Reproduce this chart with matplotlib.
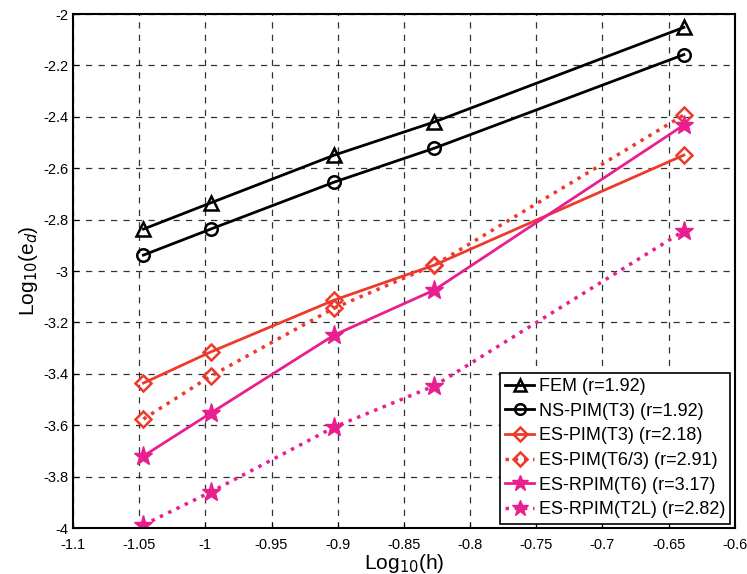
import matplotlib
matplotlib.use("Agg")
import matplotlib.pyplot as plt

plt.rcParams['font.family'] = ['Liberation Sans', 'DejaVu Sans']

# log10(h) for the five meshes
log_h = [-1.0468, -0.9960, -0.9026, -0.8270, -0.6385]

fem      = [-2.837, -2.735, -2.549, -2.420, -2.052]
ns_t3    = [-2.938, -2.837, -2.654, -2.522, -2.158]
es_t3    = [-3.436, -3.315, -3.113, -2.977, -2.549]
es_t63   = [-3.576, -3.409, -3.144, -2.977, -2.393]
rpim_t6  = [-3.720, -3.553, -3.249, -3.074, -2.432]
rpim_t2l = [-3.988, -3.860, -3.607, -3.447, -2.844]

labels = ["FEM (r=1.92)", "NS-PIM(T3) (r=1.92)", "ES-PIM(T3) (r=2.18)",
          "ES-PIM(T6/3) (r=2.91)", "ES-RPIM(T6) (r=3.17)", "ES-RPIM(T2L) (r=2.82)"]

red = "#ee3a2c"
pink = "#e91e8f"

fig = plt.figure(figsize=(7.47, 5.74), dpi=100)
ax = fig.add_axes([0.0977, 0.0801, 0.886, 0.8955])

ax.plot(log_h, fem, '-^', color='k', lw=2, ms=10, mfc='none', mew=1.8, label=labels[0])
ax.plot(log_h, ns_t3, '-o', color='k', lw=2, ms=9, mfc='none', mew=1.8, label=labels[1])
ax.plot(log_h, es_t3, '-D', color=red, lw=2, ms=8, mfc='none', mew=1.8, label=labels[2])
ax.plot(log_h, es_t63, ':D', color=red, lw=2.5, ms=8, mfc='none', mew=1.8, label=labels[3])
ax.plot(log_h, rpim_t6, '-*', color=pink, lw=2, ms=14, label=labels[4])
ax.plot(log_h, rpim_t2l, ':*', color=pink, lw=2.5, ms=14, label=labels[5])

ax.set_xlim(-1.1, -0.6)
ax.set_ylim(-4, -2)
ax.set_xticks([-1.1, -1.05, -1, -0.95, -0.9, -0.85, -0.8, -0.75, -0.7, -0.65, -0.6])
ax.set_xticklabels(["-1.1", "-1.05", "-1", "-0.95", "-0.9", "-0.85", "-0.8",
                    "-0.75", "-0.7", "-0.65", "-0.6"])
ax.set_yticks([-4, -3.8, -3.6, -3.4, -3.2, -3, -2.8, -2.6, -2.4, -2.2, -2])
ax.set_yticklabels(["-4", "-3.8", "-3.6", "-3.4", "-3.2", "-3", "-2.8",
                    "-2.6", "-2.4", "-2.2", "-2"])
ax.tick_params(labelsize=10.5, direction='in', length=4)
ax.tick_params(axis='x', pad=7)
ax.grid(True, color='k', linestyle=(0, (5, 5)), linewidth=0.9, alpha=0.8)
for s in ax.spines.values():
    s.set_linewidth(1.5)

ax.set_xlabel("Log$_{10}$(h)", fontsize=15, labelpad=0)
ax.set_ylabel("Log$_{10}$(e$_d$)", fontsize=15, labelpad=2)

leg = ax.legend(loc='lower right', fontsize=13, fancybox=False, framealpha=1,
                edgecolor='k', borderpad=0.3, labelspacing=0.42, handlelength=1.6,
                handletextpad=0.25, borderaxespad=0.25, markerscale=0.85)
leg.get_frame().set_linewidth(1.2)

fig.savefig("out.png", dpi=100)
